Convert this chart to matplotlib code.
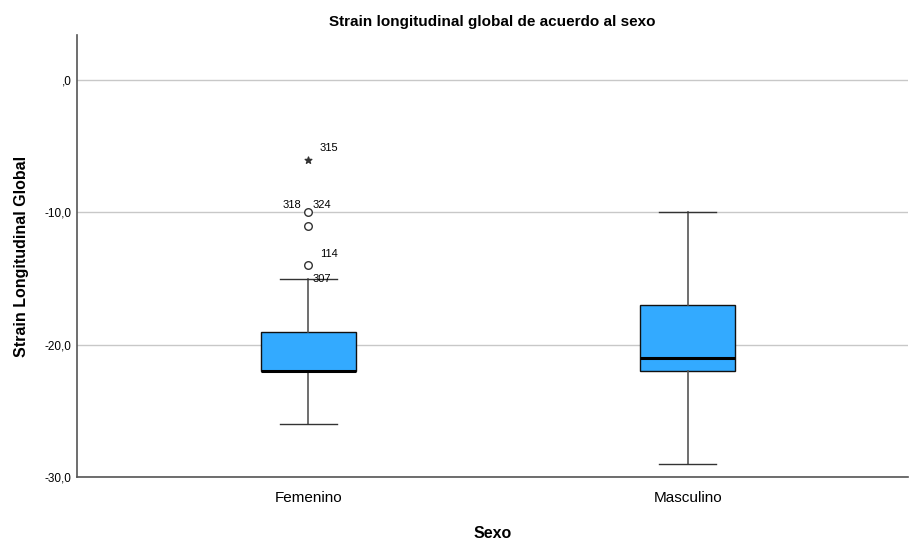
import matplotlib.pyplot as plt

plt.rcParams['font.family'] = ['Liberation Sans', 'DejaVu Sans']

# Data
categories = ["Femenino", "Masculino"]
whisker_low = [-26, -29]
q1 = [-22, -22]
median = [-22, -21]
q3 = [-19, -17]
whisker_high = [-15, -10]

# outliers (Femenino): value, case label
out_vals = [-10, -11, -14]
out_cases = ["318", "", "114"]
extreme_vals = [-6]
extreme_cases = ["315"]
BOX_COLOR = "#33aaff"

fig = plt.figure(figsize=(9.09, 5.4), dpi=100)
ax = fig.add_axes([0.0847, 0.1167, 0.914, 0.818])

stats = []
for i, name in enumerate(categories):
    stats.append({"label": name, "whislo": whisker_low[i], "q1": q1[i], "med": median[i],
                  "q3": q3[i], "whishi": whisker_high[i], "fliers": []})

ax.bxp(stats, positions=[0, 1], widths=0.25, patch_artist=True, showfliers=False,
       boxprops=dict(facecolor=BOX_COLOR, edgecolor="#111111", linewidth=1.0),
       medianprops=dict(color="black", linewidth=2.2),
       whiskerprops=dict(color="#555555", linewidth=1.2),
       capprops=dict(color="#333333", linewidth=1.0), capwidths=0.15, zorder=3)

# outliers for Femenino
ax.scatter([0] * len(out_vals), out_vals, s=30, facecolor="white", edgecolor="#333333",
           linewidth=1.0, zorder=4)
ax.scatter([0] * len(extreme_vals), extreme_vals, marker="*", s=25, color="#333333", zorder=4)
ax.text(0.03, extreme_vals[0] + 0.5, extreme_cases[0], fontsize=8, ha="left", va="bottom")
ax.text(-0.02, out_vals[0] + 0.2, out_cases[0], fontsize=8, ha="right", va="bottom")
ax.text(0.01, out_vals[0] + 0.2, "324", fontsize=8, ha="left", va="bottom")
ax.text(0.03, out_vals[2] + 0.5, out_cases[2], fontsize=8, ha="left", va="bottom")
ax.text(0.01, whisker_high[0], "307", fontsize=8, ha="left", va="center")

ax.set_xlim(-0.61, 1.58)
ax.set_ylim(-30, 3.4)
ax.set_yticks([0, -10, -20, -30])
ax.set_yticklabels([",0", "-10,0", "-20,0", "-30,0"], fontsize=8.5)
ax.set_xticks([0, 1])
ax.set_xticklabels(categories, fontsize=11)
ax.tick_params(axis="both", length=0)
ax.tick_params(axis="x", pad=10)
ax.tick_params(axis="y", pad=4)

ax.yaxis.grid(True, color="#c8c8c8", linewidth=1.0)
ax.set_axisbelow(True)
for s in ["top", "right"]:
    ax.spines[s].set_visible(False)
for s in ["left", "bottom"]:
    ax.spines[s].set_color("#555555")
    ax.spines[s].set_linewidth(1.2)

ax.set_title("Strain longitudinal global de acuerdo al sexo", fontsize=11, fontweight="bold", pad=7)
ax.set_xlabel("Sexo", fontsize=11.5, fontweight="bold", labelpad=15)
ax.set_ylabel("Strain Longitudinal Global", fontsize=11.5, fontweight="bold", labelpad=11)

plt.savefig("out.png", dpi=100)
